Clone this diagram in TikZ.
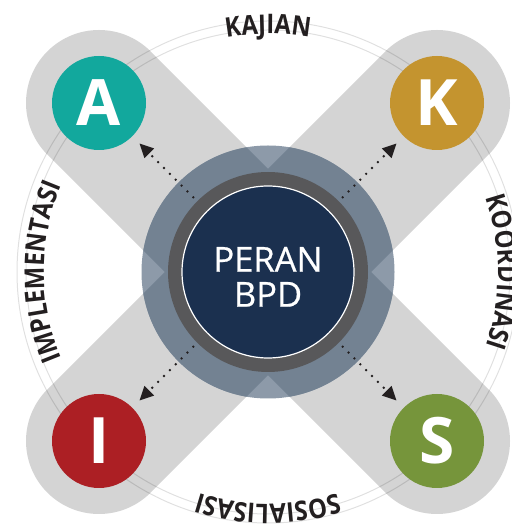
\documentclass[tikz,border=0pt]{standalone}
\usepackage{fontspec}
\setmainfont{Open Sans}
\newfontfamily\ringfont[FakeStretch=0.88]{Open Sans Bold}
\newfontfamily\corefont[FakeBold=0.6]{Open Sans}
\usetikzlibrary{arrows.meta,decorations.text}
\definecolor{bandgrey}{HTML}{D4D4D4}
\definecolor{ringlight}{HTML}{8D9AA9}
\definecolor{ringdark}{HTML}{738292}
\definecolor{ringgrey}{HTML}{58585A}
\definecolor{navy}{HTML}{1B304F}
\definecolor{cteal}{HTML}{12A89D}
\definecolor{cgold}{HTML}{C4942F}
\definecolor{cred}{HTML}{AC1F24}
\definecolor{cgreen}{HTML}{76953B}
\definecolor{labelc}{HTML}{231F20}
\tikzset{
  band/.style={line width=146pt, line cap=round},
  sat/.style={circle, inner sep=0pt, minimum size=94pt, draw=none},
  satletter/.style={anchor=base, text=white, font=\fontsize{64}{64}\selectfont\bfseries, inner sep=0pt},
  coretext/.style={anchor=base, text=white, font=\fontsize{34.5}{34.5}\corefont, inner sep=0pt},
  dotarrow/.style={line width=2.6pt, line cap=round, dash pattern=on 0pt off 8.3pt,
     shorten <=19pt, shorten >=10pt, -{Triangle[length=14pt,width=13pt]}, labelc},
  ringarc/.style={line width=1pt, black, opacity=0.12},
  ringlabel/.style={decorate, decoration={text along path, text align=center}}
}
\begin{document}
\begin{tikzpicture}[x=1pt,y=1pt]
\useasboundingbox[fill=white] (0,0) rectangle (511,527);
\coordinate (C) at (268,255);
\coordinate (pA) at (99,424);
\coordinate (pK) at (437,424);
\coordinate (pI) at (99,86);
\coordinate (pS) at (437,86);
% bands
\draw[band, bandgrey] (pA) -- (pS);
\draw[band, bandgrey] (pK) -- (pI);
% thin ring arcs
\draw[ringarc] (C) circle[radius=251];
\draw[ringarc] (C) circle[radius=242];
% outer ring, lighter where it lies over the white gaps
\fill[ringlight] (C) circle[radius=126.5];
\begin{scope}
  \clip (C) circle[radius=126.5];
  \draw[band, ringdark] (pA) -- (pS);
  \draw[band, ringdark] (pK) -- (pI);
\end{scope}
\fill[ringgrey] (C) circle[radius=100];
\node[circle, fill=navy, draw=white, line width=1.2pt, inner sep=0pt, minimum size=172pt] (core) at (C) {};
\node[coretext] (peran) at (268,255.3) {PERAN};
\node[coretext] (bpd) at (268,220.3) {BPD};
% satellites
\node[sat, fill=cteal] (A) at (pA) {};
\node[sat, fill=cgold] (K) at (pK) {};
\node[sat, fill=cred] (I) at (pI) {};
\node[sat, fill=cgreen] (S) at (pS) {};
\node[satletter] (tA) at ([yshift=-22.8pt]pA) {A};
\node[satletter] (tK) at ([yshift=-22.8pt]pK) {K};
\node[satletter] (tI) at ([yshift=-22.8pt]pI) {I};
\node[satletter] (tS) at ([yshift=-22.8pt]pS) {S};
% dotted arrows
\draw[dotarrow] (core) -- (A);
\draw[dotarrow] (core) -- (K);
\draw[dotarrow] (core) -- (I);
\draw[dotarrow] (core) -- (S);
% ring labels
\path[ringlabel, decoration={text={|\color{labelc}\fontsize{27}{27}\ringfont|KAJIAN}}]
  (C) ++(150:238) arc[start angle=150, end angle=30, radius=238];
\path[ringlabel, decoration={text={|\color{labelc}\fontsize{27}{27}\ringfont|KOORDINASI}}]
  (C) ++(60:230) arc[start angle=60, end angle=-60, radius=230];
\path[ringlabel, decoration={text={|\color{labelc}\fontsize{27}{27}\ringfont|SOSIALISASI}}]
  (C) ++(-30:232) arc[start angle=-30, end angle=-150, radius=232];
\path[ringlabel, decoration={text={|\color{labelc}\fontsize{27}{27}\ringfont|IMPLEMENTASI}}]
  (C) ++(240:224) arc[start angle=240, end angle=120, radius=224];
\end{tikzpicture}
\end{document}
